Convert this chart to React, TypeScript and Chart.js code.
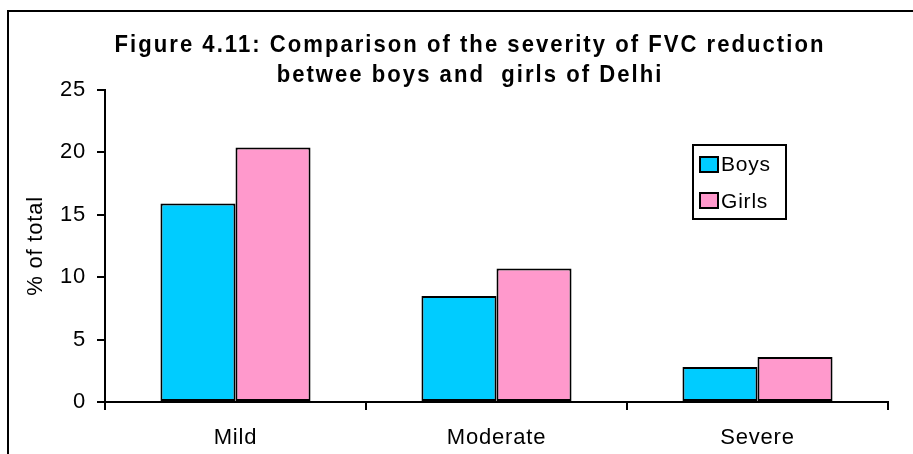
import React, { useEffect, useRef } from "react";
import { Chart, registerables } from "chart.js";

Chart.register(...registerables);

const titleLines = [
  "Figure 4.11: Comparison of the severity of FVC reduction",
  "betwee boys and  girls of Delhi",
];
const categories = ["Mild", "Moderate", "Severe"];
const seriesLabels = ["Boys", "Girls"];
const boysValues = [15.9, 8.5, 2.8];
const girlsValues = [20.4, 10.7, 3.6];
const seriesColors = ["#00CCFF", "#FF99CC"];
const yTickValues = [0, 5, 10, 15, 20, 25];
const yAxisTitle = "% of total";

const FONT = '"Liberation Sans", Arial, sans-serif';
const AXIS_SPACING = "0.8px";

const decorPlugin = {
  id: "decor",
  beforeUpdate(chart: any) {
    chart.ctx.letterSpacing = AXIS_SPACING;
  },
  beforeDraw(chart: any) {
    const ctx = chart.ctx;
    ctx.save();
    ctx.fillStyle = "#fff";
    ctx.fillRect(0, 0, chart.width, chart.height);
    ctx.restore();
    ctx.letterSpacing = AXIS_SPACING;
  },
  afterDraw(chart: any) {
    const ctx = chart.ctx;
    ctx.save();
    // outer frame
    ctx.strokeStyle = "#000";
    ctx.lineWidth = 2;
    ctx.strokeRect(8, 11, 1000, 1000);

    // title (condensed bold)
    ctx.font = `bold 24px ${FONT}`;
    ctx.fillStyle = "#000";
    ctx.textAlign = "center";
    ctx.textBaseline = "alphabetic";
    titleLines.forEach((t, i) => {
      ctx.save();
      ctx.translate(470, 52 + i * 30);
      ctx.scale(0.92, 1);
      ctx.letterSpacing = "2.2px";
      ctx.fillText(t, 0, 0);
      ctx.restore();
    });

    // legend
    ctx.letterSpacing = AXIS_SPACING;
    ctx.lineWidth = 2;
    ctx.strokeStyle = "#000";
    ctx.strokeRect(693, 145, 93, 74);
    ctx.font = `21px ${FONT}`;
    ctx.textAlign = "left";
    chart.data.datasets.forEach((ds: any, i: number) => {
      const y = 157 + i * 36;
      ctx.fillStyle = ds.backgroundColor;
      ctx.fillRect(700, y, 18, 15);
      ctx.strokeRect(700, y, 18, 15);
      ctx.fillStyle = "#000";
      ctx.fillText(ds.label, 721, 171 + i * 37);
    });
    ctx.restore();
  },
};

export default function App() {
  const canvasRef = useRef<HTMLCanvasElement | null>(null);

  useEffect(() => {
    if (!canvasRef.current) return;
    const chart = new Chart(canvasRef.current, {
      type: "bar",
      data: {
        labels: categories,
        datasets: [
          {
            label: seriesLabels[0],
            data: boysValues,
            backgroundColor: seriesColors[0],
            borderColor: "#000",
            borderWidth: 2,
            borderSkipped: false,
            barPercentage: 1,
            categoryPercentage: 0.575,
          },
          {
            label: seriesLabels[1],
            data: girlsValues,
            backgroundColor: seriesColors[1],
            borderColor: "#000",
            borderWidth: 2,
            borderSkipped: false,
            barPercentage: 1,
            categoryPercentage: 0.575,
          },
        ],
      },
      options: {
        responsive: false,
        animation: false,
        devicePixelRatio: 1,
        layout: { padding: { top: 90, right: 25, left: 0, bottom: 0 } },
        plugins: {
          legend: { display: false },
          title: { display: false },
          tooltip: { enabled: false },
        },
        scales: {
          x: {
            grid: {
              offset: true,
              drawOnChartArea: false,
              drawTicks: true,
              tickLength: 8,
              color: "#000",
              lineWidth: 2,
            },
            border: { display: true, color: "#000", width: 2 },
            ticks: {
              color: "#000",
              font: { family: FONT, size: 22 },
              padding: 15,
              maxRotation: 0,
            },
            afterFit: (s: any) => {
              s.height = 52;
            },
          },
          y: {
            min: yTickValues[0],
            max: yTickValues[yTickValues.length - 1],
            ticks: {
              stepSize: yTickValues[1] - yTickValues[0],
              color: "#000",
              font: { family: FONT, size: 22 },
              padding: 11,
            },
            grid: {
              drawOnChartArea: false,
              drawTicks: true,
              tickLength: 8,
              color: "#000",
              lineWidth: 2,
            },
            border: { display: true, color: "#000", width: 2 },
            title: {
              display: true,
              text: yAxisTitle,
              color: "#000",
              font: { family: FONT, size: 22 },
              padding: { top: 23, bottom: 0 },
            },
            afterFit: (s: any) => {
              s.width = 105;
            },
          },
        },
      },
      plugins: [decorPlugin],
    } as any);
    return () => chart.destroy();
  }, []);

  return (
    <div style={{ position: "absolute", left: 0, top: 0, width: 913, height: 454 }}>
      <canvas ref={canvasRef} width={913} height={454} style={{ display: "block" }} />
    </div>
  );
}
